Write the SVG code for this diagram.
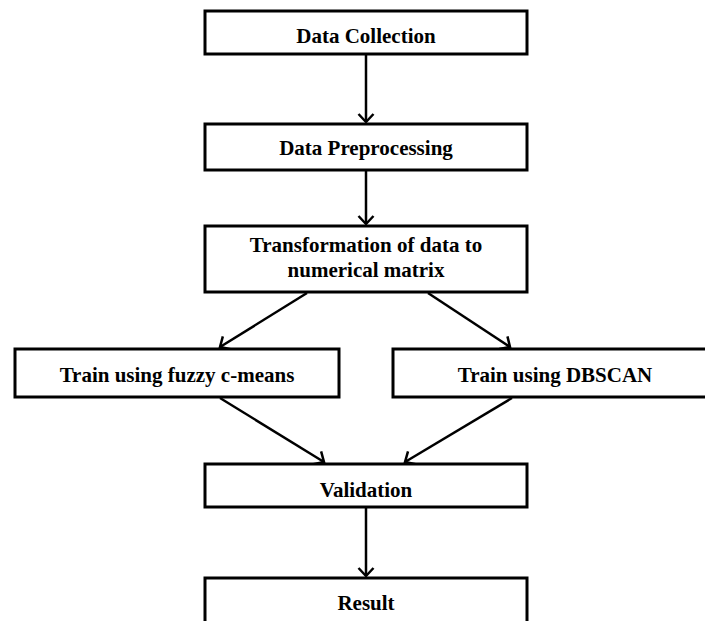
<svg xmlns="http://www.w3.org/2000/svg" width="705" height="621" viewBox="0 0 705 621">
<style>
.box{fill:#fff;stroke:#000;stroke-width:3}
.lbl{font-family:"Liberation Serif","Times New Roman",serif;font-weight:bold;font-size:21px;fill:#000;text-anchor:middle}
.edge{fill:none;stroke:#000;stroke-width:2.5}
</style>
<defs>
<marker id="arr" markerUnits="userSpaceOnUse" markerWidth="20" markerHeight="20" viewBox="-10 -10 20 20" refX="0" refY="0" orient="auto" overflow="visible">
<path d="M-8,-7.5 L0,0 L-8,7.5" fill="none" stroke="#000" stroke-width="2.5"/>
</marker>
</defs>
<rect width="705" height="621" fill="#fff"/>
<g id="connectors">
<line class="edge" x1="366" y1="55" x2="366" y2="122" marker-end="url(#arr)"/>
<line class="edge" x1="366" y1="171" x2="366" y2="224" marker-end="url(#arr)"/>
<line class="edge" x1="307" y1="293" x2="220" y2="347" marker-end="url(#arr)"/>
<line class="edge" x1="428" y1="293" x2="510" y2="347" marker-end="url(#arr)"/>
<line class="edge" x1="220" y1="398" x2="324" y2="462" marker-end="url(#arr)"/>
<line class="edge" x1="512" y1="398" x2="405" y2="462" marker-end="url(#arr)"/>
<line class="edge" x1="366" y1="508" x2="366" y2="576" marker-end="url(#arr)"/>
</g>
<g id="data-collection">
<rect class="box" x="205" y="11" width="322" height="43"/>
<text class="lbl" x="366" y="43">Data Collection</text>
</g>
<g id="data-preprocessing">
<rect class="box" x="205" y="124" width="322" height="46"/>
<text class="lbl" x="366" y="155">Data Preprocessing</text>
</g>
<g id="transformation">
<rect class="box" x="205" y="226" width="322" height="66"/>
<text class="lbl" x="366" y="252">Transformation of data to</text>
<text class="lbl" x="366" y="277">numerical matrix</text>
</g>
<g id="train-fcm">
<rect class="box" x="15" y="349" width="324" height="48"/>
<text class="lbl" x="177" y="382">Train using fuzzy c-means</text>
</g>
<g id="train-dbscan">
<rect class="box" x="393" y="349" width="324" height="48"/>
<text class="lbl" x="555" y="382">Train using DBSCAN</text>
</g>
<g id="validation">
<rect class="box" x="205" y="464" width="322" height="43"/>
<text class="lbl" x="366" y="497">Validation</text>
</g>
<g id="result">
<rect class="box" x="205" y="578" width="322" height="60"/>
<text class="lbl" x="366" y="610">Result</text>
</g>
</svg>
